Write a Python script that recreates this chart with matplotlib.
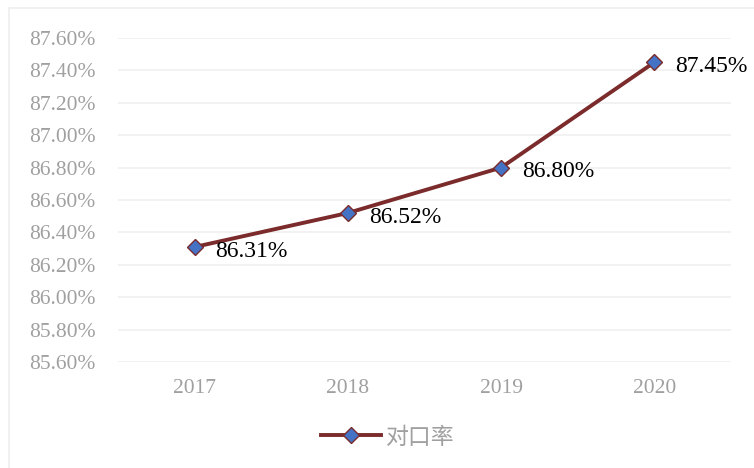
import matplotlib.pyplot as plt
from matplotlib.patches import Rectangle

years = ['2017', '2018', '2019', '2020']
rate = [86.31, 86.52, 86.80, 87.45]
yticks = [85.6, 85.8, 86.0, 86.2, 86.4, 86.6, 86.8, 87.0, 87.2, 87.4, 87.6]
series_name = '对口率'

line_color = '#7B2B2B'
marker_color = '#4472C4'
grey = '#A0A0A0'

fig = plt.figure(figsize=(7.54, 4.68), dpi=100)
# outer chart border
fig.patches.append(Rectangle((9 / 754, -0.01), 1.0, 1 - 8 / 468 + 0.01, transform=fig.transFigure,
                             fill=False, edgecolor='#EDEDED', linewidth=1.2))

ax = fig.add_axes([118 / 754, 1 - 362 / 468, (731 - 118) / 754, (362 - 38) / 468])
x = range(len(years))
ax.plot(x, rate, color=line_color, linewidth=2.8, marker='D', markersize=8,
        markerfacecolor=marker_color, markeredgecolor=line_color, markeredgewidth=1.0,
        label=series_name, zorder=3)

for i, v in enumerate(rate):
    ax.annotate(f'{v:.2f}%', (i, v), xytext=(15, -3), textcoords='offset points',
                ha='left', va='center', fontsize=17, family='Liberation Serif', color='black')

ax.set_xlim(-0.5, len(years) - 0.5)
ax.set_ylim(yticks[0], yticks[-1])
ax.set_yticks(yticks)
ax.set_yticklabels([f'{t:.2f}%' for t in yticks], family='Liberation Serif', fontsize=15.5, color=grey)
ax.set_xticks(list(x))
ax.set_xticklabels(years, family='Liberation Serif', fontsize=15.5, color=grey)
ax.tick_params(length=0)
ax.tick_params(axis='x', pad=12)
ax.tick_params(axis='y', pad=16)
ax.grid(axis='y', color='#F0F0F0', linewidth=1.2)
ax.set_axisbelow(True)
for s in ax.spines.values():
    s.set_visible(False)

leg = fig.legend(loc='center', bbox_to_anchor=(388 / 754, 1 - 437 / 468), frameon=False,
                 prop={'family': ['Noto Sans CJK SC', 'DejaVu Sans'], 'size': 16.5},
                 handlelength=2.6, handletextpad=0.25)
for t in leg.get_texts():
    t.set_color(grey)

fig.savefig('out.png', dpi=100)
